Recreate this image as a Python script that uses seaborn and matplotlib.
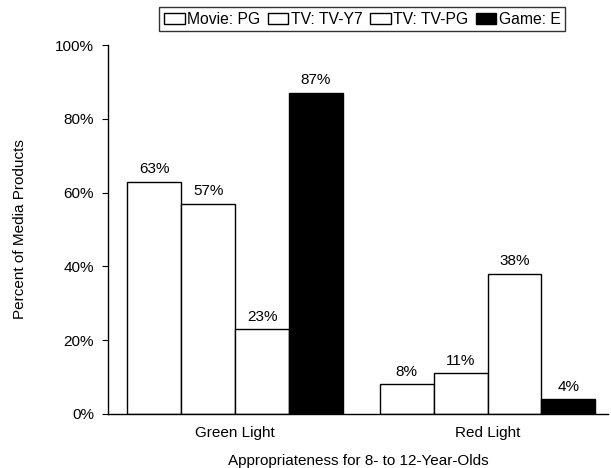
import numpy as np
import pandas as pd
import matplotlib.pyplot as plt
import seaborn as sns

# data
groups = ["Green Light", "Red Light"]
ratings = ["Movie: PG", "TV: TV-Y7", "TV: TV-PG", "Game: E"]
movie_pg = [63, 8]
tv_y7 = [57, 11]
tv_pg = [23, 38]
game_e = [87, 4]

df = pd.DataFrame({
    "group": groups * 4,
    "rating": np.repeat(ratings, 2),
    "pct": movie_pg + tv_y7 + tv_pg + game_e,
})

sns.set_style("ticks", {"text.color": "black", "axes.labelcolor": "black",
                        "xtick.color": "black", "ytick.color": "black",
                        "axes.edgecolor": "black"})
plt.rcParams['font.family'] = ['Liberation Sans', 'DejaVu Sans']

fig = plt.figure(figsize=(6.11, 4.68), dpi=100)
ax = fig.add_axes([0.1768, 0.1154, 0.8182, 0.7884])

pal = {"Movie: PG": "white", "TV: TV-Y7": "white", "TV: TV-PG": "white", "Game: E": "black"}
sns.barplot(data=df, x="group", y="pct", hue="rating", hue_order=ratings,
            palette=pal, edgecolor="black", linewidth=1.0, width=0.855,
            gap=0, ax=ax, legend=True)

for c in ax.containers:
    ax.bar_label(c, fmt="{:.0f}%", padding=4, fontsize=11, color="black")

ax.set_xlim(-0.503, 1.477)
ax.set_ylim(0, 100)
ax.set_yticks([0, 20, 40, 60, 80, 100])
ax.set_yticklabels([f"{v}%" for v in [0, 20, 40, 60, 80, 100]], fontsize=11)
ax.tick_params(axis="x", length=0, labelsize=11, pad=9)
ax.tick_params(axis="y", length=4, width=0.8, pad=6)
sns.despine(ax=ax)
ax.spines["left"].set_linewidth(1.0)
ax.spines["bottom"].set_linewidth(1.0)

ax.set_xlabel("Appropriateness for 8- to 12-Year-Olds", fontsize=11, labelpad=10)
ax.set_ylabel("Percent of Media Products", fontsize=11)
ax.yaxis.set_label_coords(-0.162, 0.5)

ax.legend(loc="center", bbox_to_anchor=(0.593, 0.959), bbox_transform=fig.transFigure,
          ncol=4, frameon=True, fancybox=False, edgecolor="black", fontsize=11.3,
          handlelength=1.3, handleheight=0.7, handletextpad=0.15, columnspacing=0.5,
          borderpad=0.3, borderaxespad=0)
ax.get_legend().get_frame().set_linewidth(1.0)

plt.savefig("out.png", dpi=100)
